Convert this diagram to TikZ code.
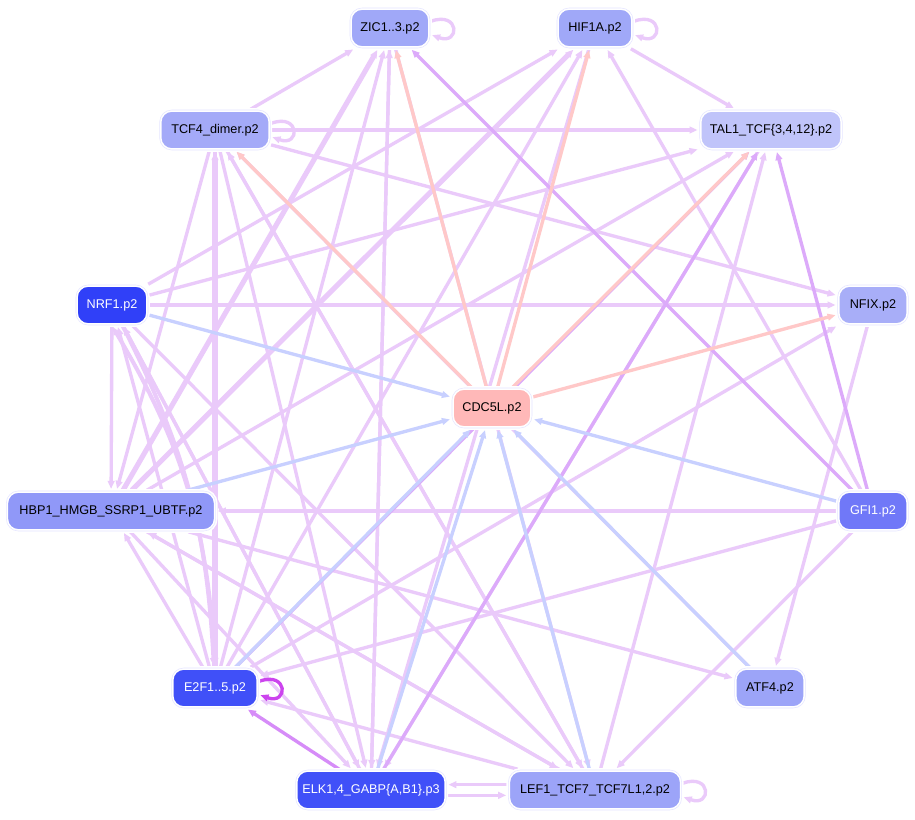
\documentclass[tikz,border=0pt]{standalone}
\usepackage{fontspec}
\setmainfont{Liberation Sans}
\usetikzlibrary{arrows.meta}
\pgfdeclarelayer{bg}
\pgfsetlayers{bg,main}
\definecolor{li}{RGB}{234,202,250}
\definecolor{lid}{RGB}{220,170,250}
\definecolor{rd}{RGB}{255,200,200}
\definecolor{bl}{RGB}{200,208,255}
\definecolor{pu}{RGB}{204,68,238}
\definecolor{pum}{RGB}{214,140,248}
\tikzset{
 nd/.style={draw=white,line width=1.2pt,rounded corners=9pt,minimum height=30pt,font=\fontsize{9.5}{10}\selectfont,inner xsep=5pt,double=blue!10,double distance=0.4pt},
 e/.style={-{Triangle[length=6pt,width=5pt]},line width=2.5pt,shorten >=1pt},
}
\begin{document}
\begin{tikzpicture}[x=0.75pt,y=-0.75pt]
\useasboundingbox (0,0) rectangle (915,820);
\node[nd,fill={rgb,255:red,160;green,168;blue,248},minimum width=60pt] (zic) at (390,28) {ZIC1..3.p2};
\node[nd,fill={rgb,255:red,160;green,168;blue,248},minimum width=57pt] (hif) at (595,28) {HIF1A.p2};
\node[nd,fill={rgb,255:red,164;green,170;blue,248},minimum width=83pt] (tcf) at (215,130) {TCF4\_dimer.p2};
\node[nd,fill={rgb,255:red,192;green,196;blue,250},minimum width=107pt] (tal) at (771,130) {TAL1\_TCF\{3,4,12\}.p2};
\node[nd,fill={rgb,255:red,48;green,64;blue,248},text=white,minimum width=54pt] (nrf) at (112,305) {NRF1.p2};
\node[nd,fill={rgb,255:red,168;green,174;blue,248},minimum width=53pt] (nfix) at (873,305) {NFIX.p2};
\node[nd,fill={rgb,255:red,255;green,184;blue,184},minimum width=60pt] (cdc) at (492,408) {CDC5L.p2};
\node[nd,fill={rgb,255:red,144;green,152;blue,248},minimum width=157pt] (hbp) at (111,511) {HBP1\_HMGB\_SSRP1\_UBTF.p2};
\node[nd,fill={rgb,255:red,112;green,120;blue,248},text=white,minimum width=53pt] (gfi) at (873,511) {GFI1.p2};
\node[nd,fill={rgb,255:red,64;green,80;blue,248},text=white,minimum width=65pt] (e2f) at (215,688) {E2F1..5.p2};
\node[nd,fill={rgb,255:red,156;green,164;blue,248},minimum width=53pt] (atf) at (770,688) {ATF4.p2};
\node[nd,fill={rgb,255:red,64;green,80;blue,248},text=white,minimum width=92pt] (elk) at (371,790) {ELK1,4\_GABP\{A,B1\}.p3};
\node[nd,fill={rgb,255:red,156;green,164;blue,248},minimum width=130pt] (lef) at (595,790) {LEF1\_TCF7\_TCF7L1,2.p2};
\begin{pgfonlayer}{bg}
\fill[white] (0,0) rectangle (915,820);
\foreach \a/\b in {tcf/zic,tcf/tal,tcf/nfix,tcf/hbp,tcf/e2f,tcf/elk,tcf/lef,hif/tal,
 nrf/tal,nrf/hif,nrf/nfix,nrf/hbp,nrf/elk,nrf/lef,hbp/tal,hbp/lef,hbp/atf,
 gfi/hbp,gfi/hif,gfi/e2f,gfi/lef,nfix/atf,e2f/zic,e2f/hif,e2f/nrf,e2f/hbp,
 lef/e2f,lef/tal,lef/hbp,lef/tcf,atf/tcf,zic/elk,zic/lef,hif/elk,tal/elk,hbp/elk,elk/zic,e2f/nfix,elk/nrf}
 \draw[e,li] (\a) -- (\b);
\draw[e,li] ([yshift=-4]elk.east) -- ([yshift=-4]lef.west);
\draw[e,li] ([yshift=4]lef.west) -- ([yshift=4]elk.east);
\draw[e,li,line width=3.8pt] (hbp) -- (zic);
\draw[e,li,line width=3.8pt] (hbp) -- (hif);
\draw[e,li,line width=3.8pt] (e2f) -- (tcf);
\draw[e,li,line width=3pt] (nrf) to[bend left=12] (e2f);
\draw[e,li,line width=3pt] (e2f.north) to[bend right=14] (nrf.south);
\draw[e,lid] (gfi) -- (zic);
\draw[e,lid] (gfi) -- (tal);
\draw[e,lid] (elk) -- (tal);
\draw[e,lid] (e2f) -- (tal);
\draw[e,pum] (elk) -- (e2f);
\foreach \b in {zic,hif,tcf,tal,nfix} \draw[e,rd] (cdc) -- (\b);
\foreach \a in {nrf,hbp,e2f,elk,lef,atf,gfi} \draw[e,bl] (\a) -- (cdc);
\draw[e,li] ([yshift=5]zic.east) to[out=20,in=-20,looseness=6] ([yshift=-5]zic.east);
\draw[e,li] ([yshift=5]hif.east) to[out=20,in=-20,looseness=6] ([yshift=-5]hif.east);
\draw[e,li] ([yshift=5]tcf.east) to[out=20,in=-20,looseness=6] ([yshift=-5]tcf.east);
\draw[e,li] ([yshift=5]lef.east) to[out=20,in=-20,looseness=6] ([yshift=-5]lef.east);
\draw[e,pu] ([yshift=5]e2f.east) to[out=20,in=-20,looseness=6] ([yshift=-5]e2f.east);
\end{pgfonlayer}
\end{tikzpicture}
\end{document}
